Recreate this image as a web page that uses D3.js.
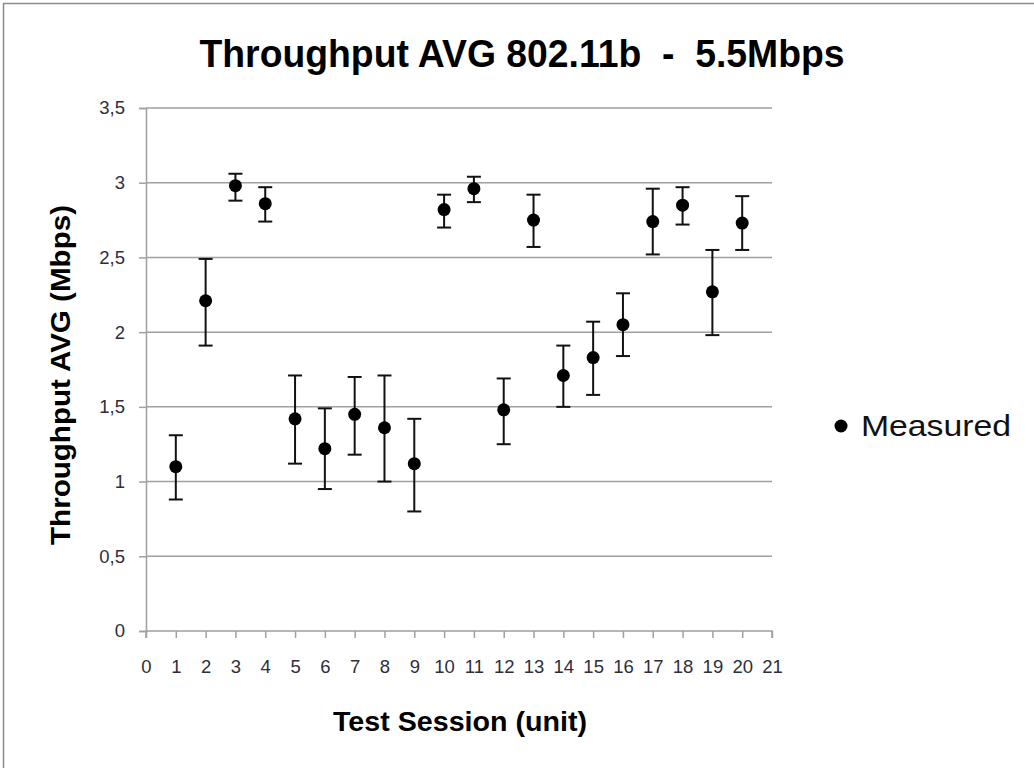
<!DOCTYPE html>
<html>
<head>
<meta charset="utf-8">
<script src="https://cdn.jsdelivr.net/npm/d3@7"></script>
<style>
  body { margin: 0; background: #fff; }
  svg { display: block; font-family: "Liberation Sans Narrow", "Liberation Sans", Arial, sans-serif; }
</style>
</head>
<body>
<svg id="chart" width="1034" height="768"></svg>
<script>
// data
let sessions = [1, 2, 3, 4, 5, 6, 7, 8, 9, 10, 11, 12, 13, 14, 15, 16, 17, 18, 19, 20];
let measured = [1.10, 2.21, 2.98, 2.86, 1.42, 1.22, 1.45, 1.36, 1.12, 2.82, 2.96, 1.48, 2.75, 1.71, 1.83, 2.05, 2.74, 2.85, 2.27, 2.73];
let errHigh  = [1.31, 2.49, 3.06, 2.97, 1.71, 1.49, 1.70, 1.71, 1.42, 2.92, 3.04, 1.69, 2.92, 1.91, 2.07, 2.26, 2.96, 2.97, 2.55, 2.91];
let errLow   = [0.88, 1.91, 2.88, 2.74, 1.12, 0.95, 1.18, 1.00, 0.80, 2.70, 2.87, 1.25, 2.57, 1.50, 1.58, 1.84, 2.52, 2.72, 1.98, 2.55];
let xTicks = d3.range(0, 22);
let yTicks = [0, 0.5, 1, 1.5, 2, 2.5, 3, 3.5];
let seriesName = "Measured";

let svg = d3.select("#chart");
let plotLeft = 146, plotRight = 772, plotTop = 108, plotBottom = 631;
let gridColor = "#a0a0a0";
let labelColor = "#2e2e3a";

let x = d3.scaleLinear().domain([0, 21]).range([plotLeft, plotRight]);
let y = d3.scaleLinear().domain([0, 3.5]).range([plotBottom, plotTop]);
let fmt = d => String(d).replace(".", ",");

// outer frame (only top and left edges are visible)
svg.append("path")
  .attr("d", "M3.5,768 L3.5,3.5 L1034,3.5")
  .attr("fill", "none")
  .attr("stroke", "#8c8c8c")
  .attr("stroke-width", 1.5);

// gridlines
svg.append("g")
  .selectAll("line")
  .data(yTicks.filter(d => d > 0))
  .join("line")
  .attr("x1", plotLeft)
  .attr("x2", plotRight)
  .attr("y1", d => y(d))
  .attr("y2", d => y(d))
  .attr("stroke", gridColor)
  .attr("stroke-width", 1.5);

// y axis
let yAxis = svg.append("g")
  .attr("transform", `translate(${plotLeft},0)`)
  .call(d3.axisLeft(y).tickValues(yTicks).tickFormat(fmt).tickSize(7).tickPadding(14));
// x axis
let xAxis = svg.append("g")
  .attr("transform", `translate(0,${plotBottom})`)
  .call(d3.axisBottom(x).tickValues(xTicks).tickFormat(d3.format("d")).tickSize(7).tickPadding(22));

[yAxis, xAxis].forEach(g => {
  g.select(".domain").attr("stroke", gridColor).attr("stroke-width", 1.5);
  g.selectAll(".tick line").attr("stroke", gridColor).attr("stroke-width", 1.5);
  g.selectAll(".tick text")
    .attr("fill", labelColor)
    .style("font-family", "'Liberation Sans Narrow', 'Liberation Sans', sans-serif")
    .style("font-size", "18.5px");
});
xAxis.select(".domain").attr("d", `M${plotLeft},7V0H${plotRight}V7`);

// error bars
let bars = svg.append("g");
bars.selectAll("line.stem")
  .data(sessions)
  .join("line")
  .attr("class", "stem")
  .attr("x1", d => x(d))
  .attr("x2", d => x(d))
  .attr("y1", (d, i) => y(errHigh[i]))
  .attr("y2", (d, i) => y(errLow[i]))
  .attr("stroke", "#111")
  .attr("stroke-width", 2);
[errHigh, errLow].forEach(arr => {
  bars.append("g")
    .selectAll("line")
    .data(sessions)
    .join("line")
    .attr("x1", d => x(d) - 7)
    .attr("x2", d => x(d) + 7)
    .attr("y1", (d, i) => y(arr[i]))
    .attr("y2", (d, i) => y(arr[i]))
    .attr("stroke", "#111")
    .attr("stroke-width", 2);
});

// points
svg.append("g")
  .selectAll("circle")
  .data(sessions)
  .join("circle")
  .attr("cx", d => x(d))
  .attr("cy", (d, i) => y(measured[i]))
  .attr("r", 6.5)
  .attr("fill", "#000");

// title
svg.append("text")
  .attr("x", 522)
  .attr("y", 67)
  .attr("text-anchor", "middle")
  .attr("textLength", 645)
  .attr("lengthAdjust", "spacingAndGlyphs")
  .style("white-space", "pre")
  .style("font-size", "39px")
  .style("font-weight", "bold")
  .attr("fill", "#000")
  .text("Throughput AVG 802.11b  -  5.5Mbps");

// axis titles
svg.append("text")
  .attr("transform", "translate(70,375) rotate(-90)")
  .attr("text-anchor", "middle")
  .attr("textLength", 340)
  .attr("lengthAdjust", "spacingAndGlyphs")
  .style("font-size", "27px")
  .style("font-weight", "bold")
  .attr("fill", "#000")
  .text("Throughput AVG (Mbps)");

svg.append("text")
  .attr("x", 460)
  .attr("y", 731)
  .attr("text-anchor", "middle")
  .attr("textLength", 254)
  .attr("lengthAdjust", "spacingAndGlyphs")
  .style("font-size", "27px")
  .style("font-weight", "bold")
  .attr("fill", "#000")
  .text("Test Session (unit)");

// legend
let legend = svg.append("g");
legend.append("circle")
  .attr("cx", 841)
  .attr("cy", 426)
  .attr("r", 6.5)
  .attr("fill", "#000");
legend.append("text")
  .attr("x", 861)
  .attr("y", 436)
  .attr("textLength", 150)
  .attr("lengthAdjust", "spacingAndGlyphs")
  .style("font-size", "29px")
  .attr("fill", "#111")
  .text(seriesName);
</script>
</body>
</html>
